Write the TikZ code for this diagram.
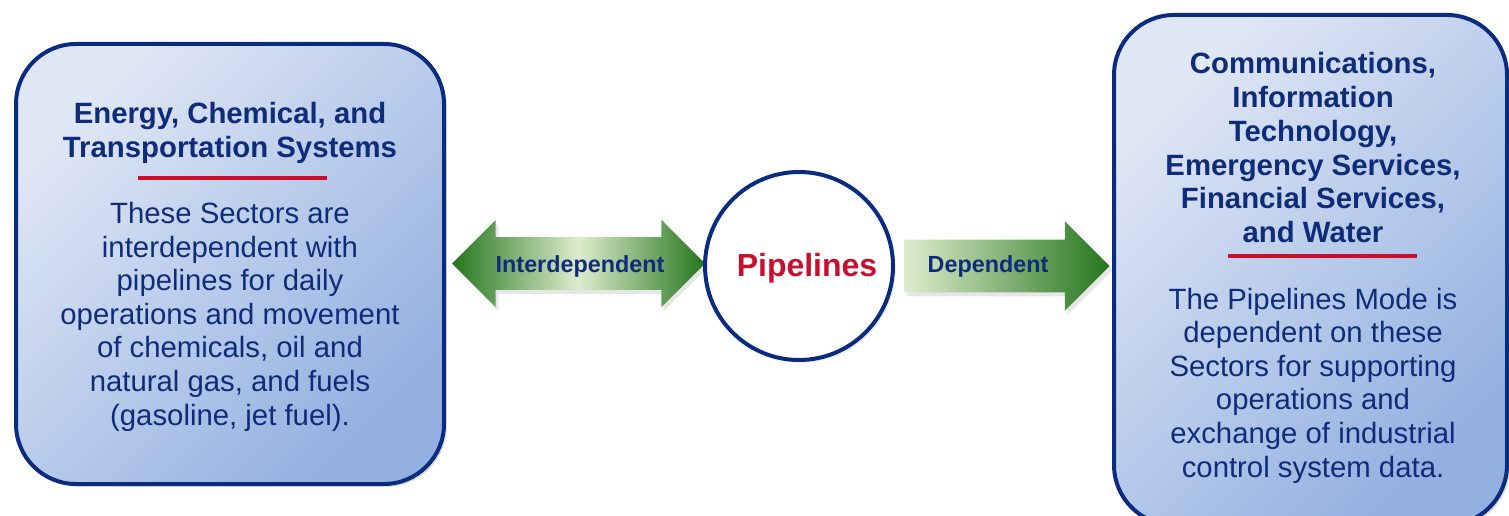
\documentclass[tikz,border=0pt]{standalone}
\usepackage{fontspec}
\setmainfont{Liberation Sans}
\usetikzlibrary{shapes.arrows,shadows}
\definecolor{navy}{RGB}{10,44,128}
\definecolor{ink}{RGB}{14,44,122}
\definecolor{crim}{RGB}{200,16,46}
\definecolor{boxlt}{RGB}{224,231,245}
\definecolor{boxdk}{RGB}{146,176,224}
\definecolor{grdk}{RGB}{38,118,30}
\definecolor{grlt}{RGB}{222,236,205}

\begin{document}
\begin{tikzpicture}[x=0.75pt,y=-0.75pt,
    sector/.style={rectangle,draw=navy,line width=3pt,rounded corners=45pt,top color=boxlt,bottom color=boxdk,shading angle=45,
      drop shadow={shadow xshift=2pt,shadow yshift=-2pt,opacity=.3}},
    hub/.style={circle,draw=navy,line width=3pt,fill=white,minimum size=141pt,inner sep=0pt,
      drop shadow={shadow xshift=2pt,shadow yshift=-2pt,opacity=.15}},
    twoway/.style={double arrow,double arrow head extend=13.1pt,double arrow tip angle=90,minimum height=189.75pt,inner xsep=0pt,inner ysep=19.5pt,
      left color=grdk,right color=grdk,middle color=grlt,drop shadow={shadow xshift=2pt,shadow yshift=-3pt,opacity=.2}},
    oneway/.style={single arrow,single arrow head extend=13.9pt,single arrow tip angle=90,minimum height=153.75pt,inner xsep=0pt,inner ysep=19.5pt,
      left color=grlt,right color=grdk,drop shadow={shadow xshift=2pt,shadow yshift=-3pt,opacity=.2}},
    head/.style={font=\fontsize{22}{25.3}\selectfont\bfseries,text=ink,align=center,inner sep=0pt},
    body/.style={font=\fontsize{22}{25.2}\selectfont,text=ink,align=center,inner sep=0pt},
    lbl/.style={font=\fontsize{17.5}{20}\selectfont\bfseries,text=ink,inner sep=0pt},
    rule/.style={draw=crim,line width=2.6pt},
]
\useasboundingbox (0,0) rectangle (1509,516);

% sector boxes
\node[sector,minimum width=321pt,minimum height=330pt] (energy) at (230,264) {};
\node[sector,minimum width=294.75pt,minimum height=382.5pt] (comms) at (1310.5,270) {};

% arrows and hub
\node[twoway] (inter) at (578.5,263.5) {};
\node[oneway,anchor=tip] (dep) at (1110,266) {};
\node[hub] (pipe) at (799,266) {};

\node[lbl] (interlbl) at (580,266) {Interdependent};
\node[lbl] (deplbl) at (988,266) {Dependent};
\node[font=\fontsize{24}{28}\selectfont\bfseries,text=crim,inner sep=0pt] (pipelbl) at (807,268) {Pipelines};

% left box text
\node[head,anchor=north] (lhead) at (230,102.3) {Energy, Chemical, and\\Transportation Systems};
\draw[rule] (138,178) -- (327,178);
\node[body,anchor=north] (lbody) at (230,202) {These Sectors are\\interdependent with\\pipelines for daily\\operations and movement\\of chemicals, oil and\\natural gas, and fuels\\(gasoline, jet fuel).};

% right box text
\node[head,anchor=north] (rhead) at (1313,52.3) {Communications,\\Information\\Technology,\\Emergency Services,\\Financial Services,\\and Water};
\draw[rule] (1228,256) -- (1417,256);
\node[body,anchor=north] (rbody) at (1313,287.5) {The Pipelines Mode is\\dependent on these\\Sectors for supporting\\operations and\\exchange of industrial\\control system data.};
\end{tikzpicture}
\end{document}
